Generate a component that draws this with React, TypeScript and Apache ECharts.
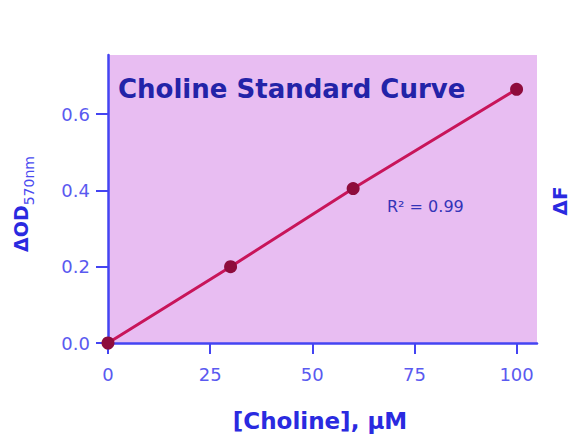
import React, { useEffect, useRef } from 'react';
import * as echarts from 'echarts';

// choline standard curve
const cholineUM = [0, 30, 60, 100];
const deltaOD = [0, 0.2, 0.405, 0.665];
const xTicks = [0, 25, 50, 75, 100];
const yTicks = [0, 0.2, 0.4, 0.6];
const titleText = 'Choline Standard Curve';
const fitText = 'R² = 0.99';

const FONT = '"DejaVu Sans", sans-serif';

export default function App() {
  const ref = useRef<HTMLDivElement | null>(null);

  useEffect(() => {
    if (!ref.current) return;
    const chart = echarts.init(ref.current, null, { renderer: 'svg' });
    chart.setOption({
      animation: false,
      grid: {
        left: 108, top: 55, right: 46, bottom: 103,
        show: true, backgroundColor: '#e8bdf2', borderWidth: 0,
      },
      xAxis: {
        type: 'value', min: 0, max: 105,
        axisLine: { show: true, lineStyle: { color: '#4444f2', width: 2.5 } },
        axisTick: { show: true, length: 11, customValues: xTicks, lineStyle: { color: '#4444f2', width: 2 } },
        axisLabel: {
          customValues: xTicks, margin: 22, color: '#5a5af0', fontSize: 18, fontFamily: FONT,
        },
        splitLine: { show: false },
      },
      yAxis: {
        type: 'value', min: 0, max: 0.755,
        axisLine: { show: true, lineStyle: { color: '#4444f2', width: 2.5 } },
        axisTick: { show: true, length: 12, customValues: yTicks, lineStyle: { color: '#4444f2', width: 2 } },
        axisLabel: {
          customValues: yTicks, margin: 18, color: '#5a5af0', fontSize: 18, fontFamily: FONT,
          formatter: (v: number) => v.toFixed(1),
        },
        splitLine: { show: false },
      },
      series: [{
        type: 'line',
        data: cholineUM.map((x, i) => [x, deltaOD[i]]),
        symbol: 'circle', symbolSize: 13,
        lineStyle: { color: '#c8155a', width: 3 },
        itemStyle: { color: '#8e0c3c' },
        z: 5,
      }],
      graphic: [
        {
          type: 'text', left: 118, top: 76, z: 10,
          style: { text: titleText, fill: '#2323a8', font: `bold 26px ${FONT}` },
        },
        {
          type: 'text', left: 387, top: 198, z: 10,
          style: { text: fitText, fill: '#3434b8', font: `16px ${FONT}` },
        },
        {
          type: 'text', x: 320, y: 421, z: 10,
          style: { text: '[Choline], µM', fill: '#2a2ae0', font: `bold 23px ${FONT}`, align: 'center', verticalAlign: 'middle' },
        },
        {
          type: 'text', x: 21, y: 204, rotation: Math.PI / 2, z: 10,
          style: {
            text: '{b|ΔOD}{s|570nm}', align: 'center', verticalAlign: 'middle',
            rich: {
              b: { fontFamily: FONT, fontWeight: 'bold', fontSize: 19, fill: '#2a2ae0', verticalAlign: 'bottom' },
              s: { fontFamily: FONT, fontSize: 14, fill: '#4a4af0', verticalAlign: 'bottom', padding: [0, 0, -5, 0] },
            },
          },
        },
        {
          type: 'text', x: 560, y: 201, rotation: Math.PI / 2, z: 10,
          style: { text: 'ΔF', fill: '#2a2ae0', font: `bold 20px ${FONT}`, align: 'center', verticalAlign: 'middle' },
        },
      ],
    });
    return () => { chart.dispose(); };
  }, []);

  return <div ref={ref} style={{ width: 583, height: 446, margin: -8 }} />;
}
